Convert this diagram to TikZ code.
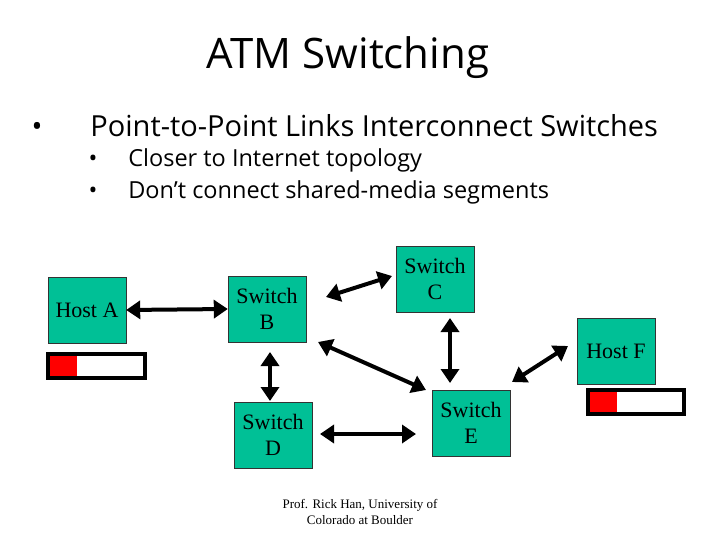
\documentclass[tikz,border=0pt]{standalone}
\usepackage{fontspec}
\setmainfont{Liberation Serif}
\newfontfamily\slidefont{Open Sans}
\usetikzlibrary{arrows.meta}
\definecolor{boxgreen}{RGB}{0,192,150}
\tikzset{
  box/.style={draw=black!80, fill=boxgreen, minimum width=78pt, minimum height=66pt,
    inner sep=0pt, align=center, font=\fontsize{22}{26}\selectfont},
  link/.style={line width=4pt, {Triangle[length=14pt,width=18pt]}-{Triangle[length=14pt,width=18pt]}},
  cell/.style={draw=black, line width=3.5pt, fill=white},
}
\begin{document}
\begin{tikzpicture}[x=1pt,y=-1pt]
\useasboundingbox (0,0) rectangle (720,540);
% text
\node (title) at (348,58) {\slidefont\fontsize{42}{48}\selectfont ATM Switching};
\node[anchor=west] (b1) at (28,126) {\slidefont\fontsize{29}{34}\selectfont \textbullet\hspace{48pt}Point-to-Point Links Interconnect Switches};
\node[anchor=west] (b2) at (85,160) {\slidefont\fontsize{23.5}{28}\selectfont \textbullet\hspace{31pt}Closer to Internet topology};
\node[anchor=west] (b3) at (85,192) {\slidefont\fontsize{23.5}{28}\selectfont \textbullet\hspace{31pt}Don’t connect shared-media segments};
% boxes
\node[box] (hostA) at (87,310) {Host A};
\node[box] (swB) at (267,309) {Switch\\B};
\node[box] (swC) at (435,279) {Switch\\C};
\node[box] (hostF) at (616,351) {Host F};
\node[box] (swD) at (273,435) {Switch\\D};
\node[box] (swE) at (471,423) {Switch\\E};
% cells
\draw[cell] (48,354) rectangle (145,378);
\fill[red] (50,356) rectangle (77,376);
\draw[cell] (588,390) rectangle (684,414);
\fill[red] (590,392) rectangle (617,412);
% links
\draw[link] (hostA.east) -- (swB.west);
\draw[link] (326,297) -- (392,276);
\draw[link] (318,342) -- (426,390);
\draw[link] (270,352) -- (270,401);
\draw[link] (450,318) -- (450,383);
\draw[link] (320,434) -- (416,434);
\draw[link] (512,382) -- (568,346);
% footer
\node[align=center, font=\fontsize{13}{16}\selectfont] (foot) at (360,512) {Prof. Rick Han, University of\\Colorado at Boulder};
\end{tikzpicture}
\end{document}
